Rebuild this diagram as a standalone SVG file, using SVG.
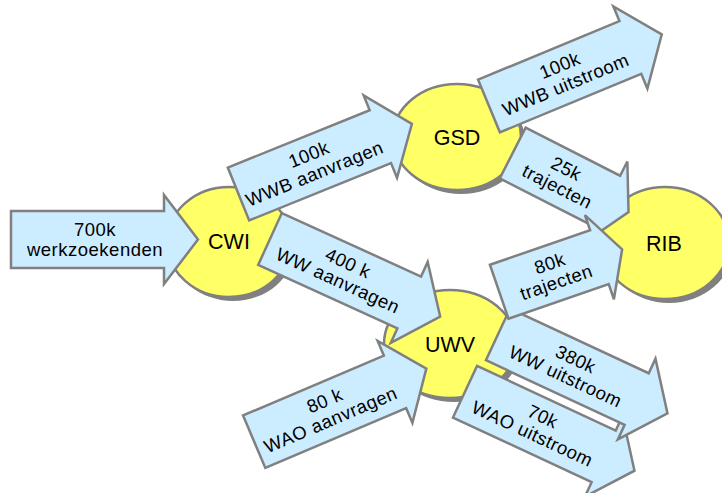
<svg xmlns="http://www.w3.org/2000/svg" width="722" height="493" viewBox="0 0 722 493">
<defs>
<style>
.node{fill:#FFFF66;stroke:#808080;stroke-width:2.5}
.shadow{fill:#808080}
.arrow{fill:#CCECFF;stroke:#808080;stroke-width:2.5;stroke-linejoin:miter}
.lbl{font-family:"Liberation Sans",Arial,sans-serif;font-size:18.5px;letter-spacing:0.5px;fill:#000;text-anchor:middle}
.nlbl{font-family:"Liberation Sans",Arial,sans-serif;font-size:21.5px;fill:#000;text-anchor:middle}
</style>
<path id="longArrow" d="M0,-28.5H153V-44.5L187,0L153,44.5V28.5H0Z"/>
<path id="shortArrow" d="M0,-28.5H106V-44.5L130,0L106,44.5V28.5H0Z"/>
</defs>
<rect width="722" height="493" fill="#fff"/>
<g id="CWI">
<ellipse class="shadow" cx="233" cy="246" rx="62" ry="55"/>
<ellipse class="node" cx="229" cy="242" rx="62" ry="55"/>
<text class="nlbl" x="229" y="249">CWI</text>
</g>
<g id="GSD">
<ellipse class="shadow" cx="461" cy="141" rx="64" ry="53"/>
<ellipse class="node" cx="457" cy="137" rx="64" ry="53"/>
<text class="nlbl" x="457" y="145">GSD</text>
</g>
<g id="RIB">
<ellipse class="shadow" cx="669" cy="247" rx="64" ry="56"/>
<ellipse class="node" cx="665" cy="243" rx="64" ry="56"/>
<text class="nlbl" x="664" y="251">RIB</text>
</g>
<g id="UWV">
<ellipse class="shadow" cx="454" cy="348" rx="66" ry="54"/>
<ellipse class="node" cx="450" cy="344" rx="66" ry="54"/>
<text class="nlbl" x="450" y="352">UWV</text>
</g>
<g id="connectors">
<g id="a-werkzoekenden" transform="translate(11,239.5)">
<use href="#longArrow" class="arrow"/>
<text class="lbl" x="84" y="-4">700k</text>
<text class="lbl" x="84" y="16">werkzoekenden</text>
</g>
<g id="a-wwb-aanvragen" transform="translate(238.5,194) rotate(-22)">
<use href="#longArrow" class="arrow"/>
<text class="lbl" x="80" y="-4">100k</text>
<text class="lbl" x="78" y="16">WWB aanvragen</text>
</g>
<g id="a-ww-aanvragen" transform="translate(270,239) rotate(24.5)">
<use href="#longArrow" class="arrow"/>
<text class="lbl" x="81" y="-4">400 k</text>
<text class="lbl" x="79" y="16">WW aanvragen</text>
</g>
<g id="a-wao-aanvragen" transform="translate(254.2,441.7) rotate(-23)">
<use href="#longArrow" class="arrow"/>
<text class="lbl" x="81" y="-4">80 k</text>
<text class="lbl" x="79" y="16">WAO aanvragen</text>
</g>
<g id="a-25k-trajecten" transform="translate(512.7,153) rotate(27)">
<use href="#shortArrow" class="arrow"/>
<text class="lbl" x="55" y="-4">25k</text>
<text class="lbl" x="55" y="16">trajecten</text>
</g>
<g id="a-wwb-uitstroom" transform="translate(489,106) rotate(-22.5)">
<use href="#longArrow" class="arrow"/>
<text class="lbl" x="81" y="-4">100k</text>
<text class="lbl" x="79" y="16">WWB uitstroom</text>
</g>
<g id="a-wao-uitstroom" transform="translate(465,391.7) rotate(25)">
<use href="#longArrow" class="arrow"/>
<text class="lbl" x="81" y="-4">70k</text>
<text class="lbl" x="79" y="16">WAO uitstroom</text>
</g>
<g id="a-ww-uitstroom" transform="translate(498,334.4) rotate(25)">
<use href="#longArrow" class="arrow"/>
<text class="lbl" x="81" y="-4">380k</text>
<text class="lbl" x="79" y="16">WW uitstroom</text>
</g>
<g id="a-80k-trajecten" transform="translate(499.2,291.7) rotate(-19)">
<use href="#shortArrow" class="arrow"/>
<text class="lbl" x="57" y="-4">80k</text>
<text class="lbl" x="57" y="16">trajecten</text>
</g>
</g>
</svg>
